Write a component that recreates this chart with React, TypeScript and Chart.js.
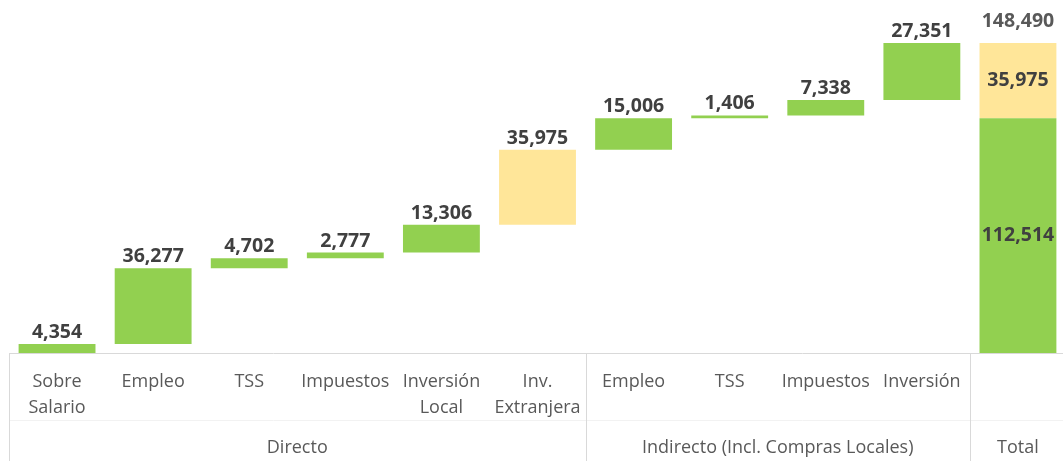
import { useEffect, useRef } from "react";
import { Chart, registerables } from "chart.js";
Chart.register(...registerables);

// ---- data ----
const categoryLines: string[][] = [
  ["Sobre", "Salario"],
  ["Empleo"],
  ["TSS"],
  ["Impuestos"],
  ["Inversión", "Local"],
  ["Inv.", "Extranjera"],
  ["Empleo"],
  ["TSS"],
  ["Impuestos"],
  ["Inversión"],
  [""],
];
const stepValues = [4354, 36277, 4702, 2777, 13306, 35975, 15006, 1406, 7338, 27351];
const stepKinds = ["g", "g", "g", "g", "g", "y", "g", "g", "g", "g"];
const totalGreen = 112514;
const totalYellow = 35975;
const totalAll = 148490;
const groupNames = ["Directo", "Indirecto (Incl. Compras Locales)", "Total"];
const groupStarts = [0, 6, 10];
const groupEnds = [5, 9, 10];

// ---- style ----
const GREEN = "#92d050";
const YELLOW = "#ffe699";
const LINE = "#d9d9d9";

const fmt = (v: number) => v.toLocaleString("en-US");

export default function App() {
  const ref = useRef<HTMLCanvasElement | null>(null);
  useEffect(() => {
    const canvas = ref.current!;
    const n = categoryLines.length;
    const greenData: any[] = new Array(n).fill(null);
    const yellowData: any[] = new Array(n).fill(null);
    let cum = 0;
    stepValues.forEach((v, i) => {
      const pair = [cum, cum + v];
      if (stepKinds[i] === "g") greenData[i] = pair;
      else yellowData[i] = pair;
      cum += v;
    });
    greenData[n - 1] = [0, totalGreen];
    yellowData[n - 1] = [totalGreen, totalGreen + totalYellow];

    const labelPlugin = {
      id: "wfLabels",
      afterDraw(chart: any) {
        const ctx = chart.ctx as CanvasRenderingContext2D;
        const area = chart.chartArea;
        const xs = chart.scales.x;
        const g = chart.getDatasetMeta(0).data;
        const y = chart.getDatasetMeta(1).data;
        ctx.save();
        // value labels
        ctx.textAlign = "center";
        ctx.font = "bold 19.5px 'Open Sans'";
        ctx.fillStyle = "#404040";
        ctx.textBaseline = "alphabetic";
        stepValues.forEach((v, i) => {
          const el = stepKinds[i] === "g" ? g[i] : y[i];
          const top = Math.min(el.y, el.base);
          ctx.fillText(fmt(v), el.x, top - 6);
        });
        const tg = g[n - 1];
        const ty = y[n - 1];
        ctx.textBaseline = "middle";
        ctx.fillText(fmt(totalGreen), tg.x, (tg.y + tg.base) / 2);
        ctx.fillText(fmt(totalYellow), ty.x, (ty.y + ty.base) / 2);
        ctx.textBaseline = "alphabetic";
        ctx.fillStyle = "#595959";
        ctx.fillText(fmt(totalAll), ty.x, Math.min(ty.y, ty.base) - 16);

        // axis lines
        const step = (xs.right - xs.left) / n;
        const bottom = area.bottom;
        const H = chart.height;
        ctx.strokeStyle = LINE;
        ctx.lineWidth = 1;
        ctx.beginPath();
        ctx.moveTo(xs.left, Math.round(bottom) + 0.5);
        ctx.lineTo(chart.width, Math.round(bottom) + 0.5);
        ctx.stroke();
        ctx.strokeStyle = "#f2f2f2";
        ctx.beginPath();
        ctx.moveTo(xs.left, Math.round(bottom) + 67.5);
        ctx.lineTo(chart.width, Math.round(bottom) + 67.5);
        ctx.stroke();
        ctx.strokeStyle = LINE;
        const bounds = [groupStarts[0], ...groupEnds.map((e) => e + 1)];
        bounds.forEach((b) => {
          const px = Math.round(xs.left + b * step) + 0.5;
          ctx.beginPath();
          ctx.moveTo(px, bottom);
          ctx.lineTo(px, H);
          ctx.stroke();
        });

        // category labels
        ctx.fillStyle = "#595959";
        ctx.font = "18px 'Open Sans'";
        ctx.textBaseline = "middle";
        categoryLines.forEach((lines, i) => {
          const cx = xs.getPixelForValue(i);
          lines.forEach((line, li) => {
            ctx.fillText(line, cx, bottom + 29 + li * 26);
          });
        });
        groupNames.forEach((name, gi) => {
          const gLeft = xs.left + groupStarts[gi] * step;
          const gRight = xs.left + (groupEnds[gi] + 1) * step;
          ctx.fillText(name, (gLeft + gRight) / 2, bottom + 95);
        });
        ctx.restore();
      },
    };

    const chart = new Chart(canvas, {
      type: "bar",
      data: {
        labels: categoryLines.map((l) => l.join(" ")),
        datasets: [
          {
            data: greenData,
            backgroundColor: GREEN,
            borderWidth: 0,
            grouped: false,
            barPercentage: 0.8,
            categoryPercentage: 1,
          } as any,
          {
            data: yellowData,
            backgroundColor: YELLOW,
            borderWidth: 0,
            grouped: false,
            barPercentage: 0.8,
            categoryPercentage: 1,
          } as any,
        ],
      },
      options: {
        responsive: false,
        animation: false,
        devicePixelRatio: 1,
        layout: { padding: { left: 9, right: 1, top: 19, bottom: 108 } },
        scales: {
          x: { display: false, offset: true, grid: { display: false } },
          y: { display: false, min: 0, max: 160000 },
        },
        plugins: { legend: { display: false }, tooltip: { enabled: false } },
      },
      plugins: [labelPlugin],
    });
    return () => chart.destroy();
  }, []);

  return (
    <div
      style={{
        position: "absolute",
        left: 0,
        top: 0,
        width: 1063,
        height: 461,
        overflow: "hidden",
        background: "#fff",
      }}
    >
      <canvas ref={ref} width={1067} height={461} style={{ width: 1067, height: 461, display: "block" }} />
    </div>
  );
}
